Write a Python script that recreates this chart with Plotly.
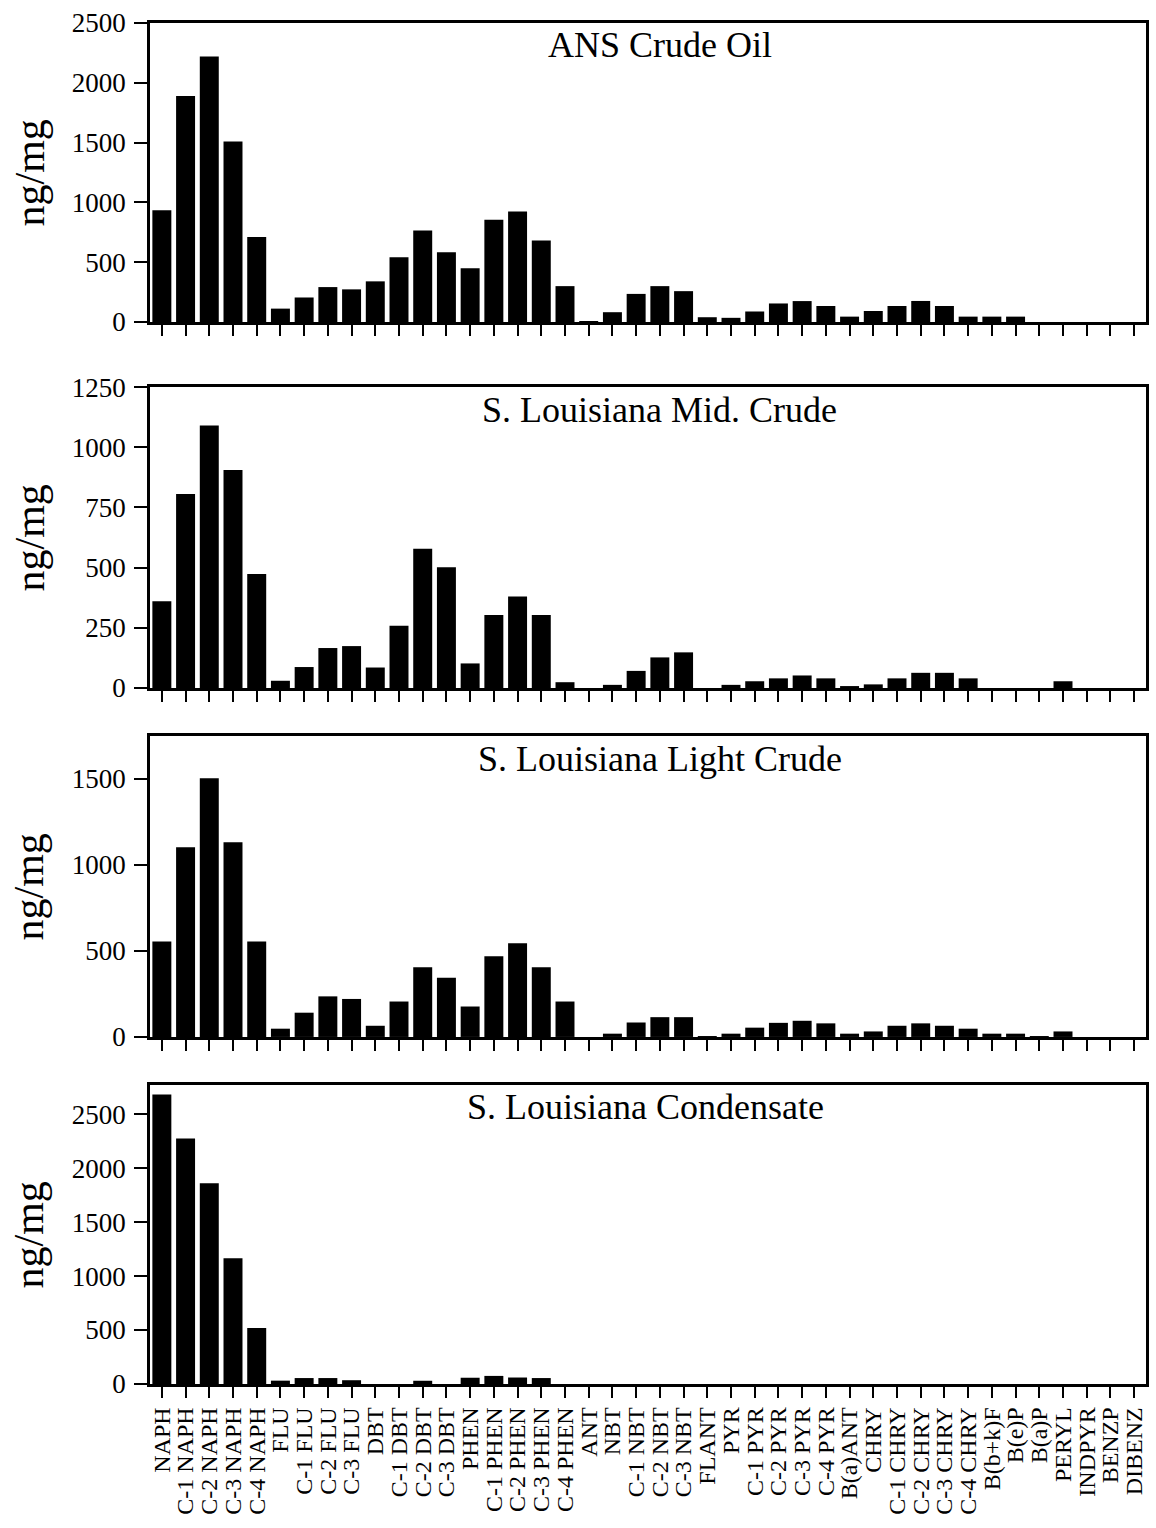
import plotly.graph_objects as go

# PAH analytes along the x axis
compounds = [
    "NAPH", "C-1 NAPH", "C-2 NAPH", "C-3 NAPH", "C-4 NAPH",
    "FLU", "C-1 FLU", "C-2 FLU", "C-3 FLU",
    "DBT", "C-1 DBT", "C-2 DBT", "C-3 DBT",
    "PHEN", "C-1 PHEN", "C-2 PHEN", "C-3 PHEN", "C-4 PHEN",
    "ANT", "NBT", "C-1 NBT", "C-2 NBT", "C-3 NBT", "FLANT",
    "PYR", "C-1 PYR", "C-2 PYR", "C-3 PYR", "C-4 PYR",
    "B(a)ANT", "CHRY", "C-1 CHRY", "C-2 CHRY", "C-3 CHRY", "C-4 CHRY",
    "B(b+k)F", "B(e)P", "B(a)P", "PERYL", "INDPYR", "BENZP", "DIBENZ",
]

# Concentrations, ng/mg
ans_crude = [
    935, 1890, 2220, 1510, 710,
    112, 205, 292, 273,
    340, 542, 765, 583,
    450, 856, 923, 681, 300,
    5, 82, 235, 300, 258, 40,
    35, 88, 155, 175, 134,
    45, 92, 134, 176, 134, 45,
    45, 45, 0, 0, 0, 0, 0,
]
sl_mid_crude = [
    360, 806, 1090, 905, 473,
    30, 87, 166, 174,
    85, 259, 578, 502,
    102, 303, 380, 303, 24,
    0, 13, 71, 127, 148, 0,
    13, 28, 40, 52, 40,
    5, 15, 40, 63, 63, 40,
    0, 0, 0, 28, 0, 0, 0,
]
sl_light_crude = [
    555, 1103, 1504, 1132, 555,
    48, 141, 236, 221,
    65, 206, 406, 344,
    177, 470, 545, 406, 206,
    0, 19, 84, 115, 115, 5,
    19, 54, 82, 94, 79,
    19, 32, 65, 79, 65, 48,
    19, 19, 3, 32, 0, 0, 0,
]
sl_condensate = [
    2682, 2275, 1859, 1165, 518,
    31, 55, 55, 35,
    0, 0, 30, 0,
    58, 75, 60, 55, 0,
    0, 0, 0, 0, 0, 0,
    0, 0, 0, 0, 0,
    0, 0, 0, 0, 0, 0,
    0, 0, 0, 0, 0, 0, 0,
]

panel_names = [
    "ANS Crude Oil",
    "S. Louisiana Mid. Crude",
    "S. Louisiana Light Crude",
    "S. Louisiana Condensate",
]
panel_series = [ans_crude, sl_mid_crude, sl_light_crude, sl_condensate]
y_max = [2500, 1250, 1750, 2770]
y_ticks = [
    [0, 500, 1000, 1500, 2000, 2500],
    [0, 250, 500, 750, 1000, 1250],
    [0, 500, 1000, 1500],
    [0, 500, 1000, 1500, 2000, 2500],
]
y_domains = [
    [0.7803, 1.0],
    [0.5114, 0.7325],
    [0.2550, 0.4761],
    [0.0, 0.2197],
]
title_x = [0.512, 0.512, 0.512, 0.497]

FONT = "Liberation Serif"

fig = go.Figure()
layout = dict(
    width=1156,
    height=1528,
    margin=dict(l=150, r=10, t=23, b=144),
    paper_bgcolor="white",
    plot_bgcolor="white",
    showlegend=False,
    bargap=0.2,
    font=dict(family=FONT, color="black"),
)
annotations = []

for k, (name, vals) in enumerate(zip(panel_names, panel_series)):
    n = k + 1
    xa = "x" if n == 1 else f"x{n}"
    ya = "y" if n == 1 else f"y{n}"
    fig.add_trace(go.Bar(
        x=compounds, y=vals, xaxis=xa, yaxis=ya,
        marker=dict(color="black", line=dict(width=0)),
        width=0.8,
    ))
    last = (n == 4)
    layout[f"xaxis{'' if n == 1 else n}"] = dict(
        domain=[0, 1],
        anchor=ya,
        type="category",
        categoryorder="array",
        categoryarray=compounds,
        range=[-0.5, len(compounds) - 0.5],
        tickmode="array",
        tickvals=compounds,
        ticks="outside",
        ticklen=11,
        tickwidth=2,
        tickcolor="black",
        showline=True,
        linewidth=2.5,
        linecolor="black",
        mirror=True,
        showgrid=False,
        zeroline=False,
        showticklabels=last,
        tickangle=-90,
        tickfont=dict(family=FONT, size=24, color="black"),
        automargin=False,
    )
    layout[f"yaxis{'' if n == 1 else n}"] = dict(
        domain=y_domains[k],
        anchor=xa,
        range=[0, y_max[k]],
        tickmode="array",
        tickvals=y_ticks[k],
        ticks="outside",
        ticklen=13,
        tickwidth=2,
        tickcolor="black",
        showline=True,
        linewidth=2.5,
        linecolor="black",
        mirror=True,
        showgrid=False,
        zeroline=False,
        tickfont=dict(family=FONT, size=27, color="black"),
        ticklabelstandoff=3,
        automargin=False,
    )
    annotations.append(dict(
        text=name, xref="paper", yref=f"{ya} domain",
        x=title_x[k], y=0.925, xanchor="center", yanchor="middle",
        showarrow=False, font=dict(family=FONT, size=36, color="black"),
    ))
    annotations.append(dict(
        text="ng/mg", xref="paper", yref=f"{ya} domain",
        x=-0.1205, y=0.5, xanchor="center", yanchor="middle",
        textangle=-90, showarrow=False,
        font=dict(family=FONT, size=42, color="black"),
    ))

layout["annotations"] = annotations
fig.update_layout(**layout)
fig.write_html("out.html")
